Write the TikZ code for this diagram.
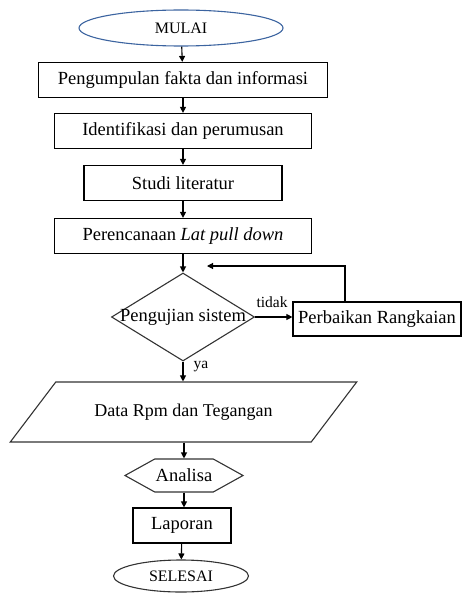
\documentclass[tikz,border=0pt]{standalone}
\usepackage{fontspec}
\setmainfont{Liberation Serif}
\usetikzlibrary{shapes.geometric, shapes.symbols, arrows.meta}

\definecolor{ovalblue}{RGB}{60,100,160}

\begin{document}
\begin{tikzpicture}[x=1pt, y=-1pt,
    box/.style={draw, line width=1.2pt, minimum height=35pt, inner sep=2pt, font=\fontsize{18.5}{20}\selectfont},
    oval/.style={ellipse, draw, line width=1.1pt, inner sep=1pt, font=\fontsize{16}{18}\selectfont},
    arr/.style={line width=1.1pt, -{Triangle[length=6pt, width=6pt]}},
    lbl/.style={inner sep=0pt, font=\fontsize{15.5}{17}\selectfont}]
                \useasboundingbox (0,0) rectangle (463,594);

                % main column
                \node[oval, draw=ovalblue, minimum width=204pt, minimum height=36pt] (mulai) at (181,28) {MULAI};
                \node[box, minimum width=289pt] (fakta) at (183,80) {Pengumpulan fakta dan informasi};
                \node[box, minimum width=257pt] (ident) at (183,131) {Identifikasi dan perumusan};
                \node[box, minimum width=198pt] (studi) at (183,183) {Studi literatur};
                \node[box, minimum width=257pt] (renc) at (183,236) {Perencanaan \textit{Lat pull down}};

                % decision
                \node[diamond, draw=black!80, line width=1.1pt, minimum width=143pt, minimum height=88pt, inner sep=0pt] (uji) at (183,317) {};
                \node[box, draw=none, inner sep=0pt] (ujitxt) at (uji) {Pengujian sistem};
                \node[box, minimum width=168pt, minimum height=34pt] (perb) at (377,319) {Perbaikan Rangkaian};

                \node[trapezium, trapezium left angle=35, trapezium right angle=145, trapezium stretches=true,
                      draw=black!80, line width=1.1pt, minimum width=347pt, minimum height=60pt,
                      font=\fontsize{18}{20}\selectfont] (data) at (183.5,412) {Data Rpm dan Tegangan};
                \node[signal, signal to=east and west, signal pointer angle=58, draw=black!80, line width=1.1pt,
                      minimum width=118pt, minimum height=33pt, inner sep=1pt,
                      font=\fontsize{18.5}{20}\selectfont] (ana) at (184,475.5) {Analisa};
                \node[box, minimum width=98pt] (lap) at (182,525.5) {Laporan};
                \node[oval, draw=black!80, minimum width=135pt, minimum height=32pt] (selesai) at (181,576) {SELESAI};

                % connectors
                \draw[arr] (mulai) -- (fakta);
                \draw[arr] (fakta) -- (ident);
                \draw[arr] (ident) -- (studi);
                \draw[arr] (studi) -- (renc);
                \draw[arr] (renc) -- (uji.north);
                \draw[arr] (uji.east) -- (perb.west |- uji.east);
                \node[lbl] (tidak) at (272,302) {tidak};

                \coordinate (sudut) at (345,266);
                \coordinate (balik) at (207,266);
                \draw[arr] (perb.north -| sudut) -- (sudut) -- (balik);

                \draw[arr] (uji.south) -- (data.north -| uji.south);
                \node[lbl] (ya) at (201,367) {ya};
                \draw[arr] (data.south -| ana.north) -- (ana.north);
                \draw[arr] (ana.south) -- (lap.north -| ana.south);
                \draw[arr] (lap) -- (selesai);
\end{tikzpicture}
\end{document}
